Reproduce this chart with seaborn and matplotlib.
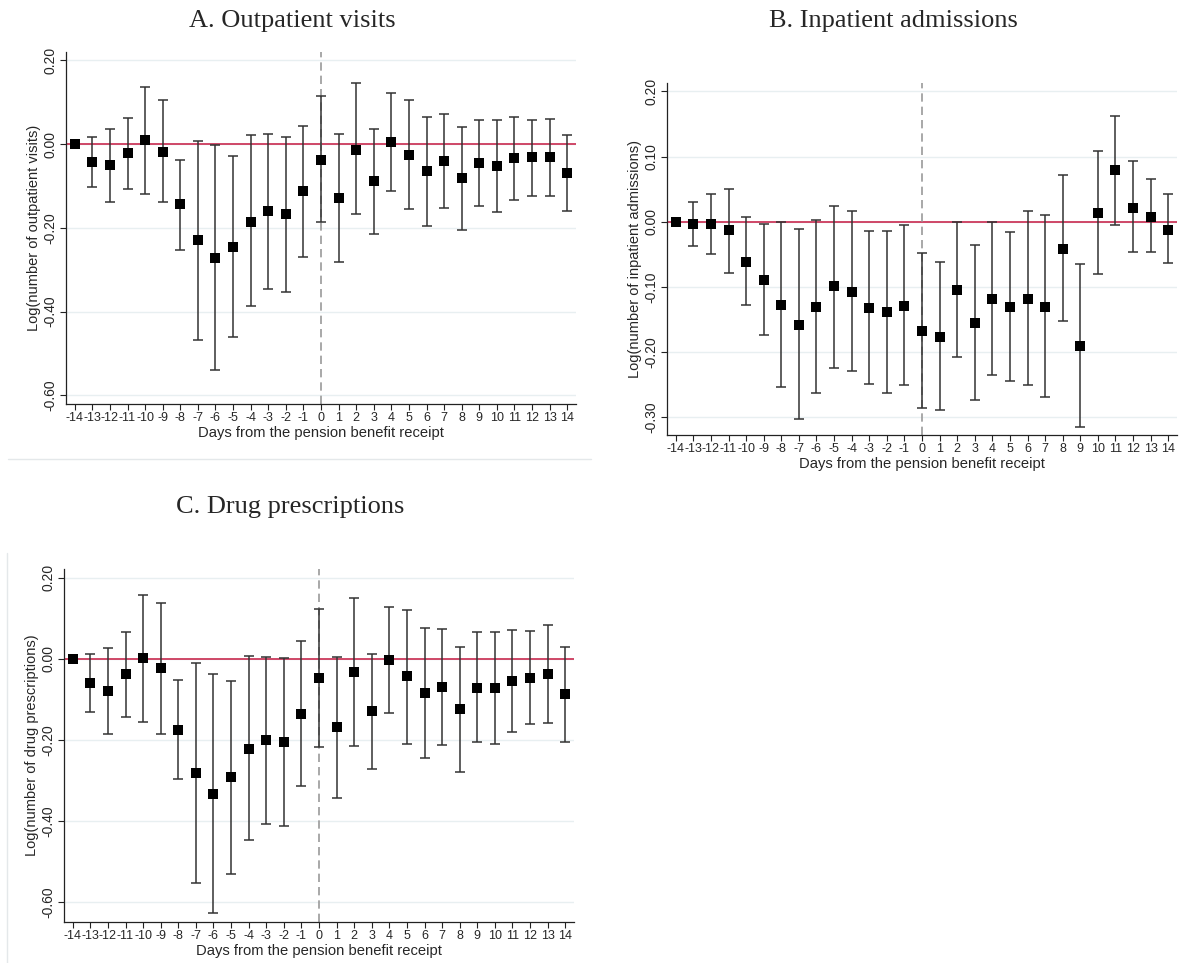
import numpy as np
import pandas as pd
import matplotlib
matplotlib.use("Agg")
import matplotlib.pyplot as plt
from matplotlib.lines import Line2D
from matplotlib.ticker import FormatStrFormatter
import seaborn as sns

days = list(range(-14, 15))

# A. Outpatient visits: point estimate and 95% CI bounds
out_est = [0.000, -0.044, -0.051, -0.022, 0.009, -0.018, -0.144, -0.230, -0.271, -0.245,
           -0.185, -0.161, -0.168, -0.113, -0.037, -0.130, -0.013, -0.089, 0.005, -0.025,
           -0.065, -0.041, -0.082, -0.046, -0.053, -0.034, -0.032, -0.032, -0.068]
out_hi = [0.000, 0.018, 0.037, 0.063, 0.137, 0.105, -0.037, 0.008, -0.002, -0.028,
          0.021, 0.025, 0.018, 0.044, 0.116, 0.023, 0.145, 0.037, 0.121, 0.105,
          0.064, 0.072, 0.041, 0.057, 0.058, 0.064, 0.058, 0.061, 0.022]
out_lo = [0.000, -0.103, -0.139, -0.108, -0.120, -0.139, -0.252, -0.468, -0.539, -0.462,
          -0.388, -0.347, -0.354, -0.270, -0.187, -0.281, -0.168, -0.215, -0.111, -0.155,
          -0.195, -0.152, -0.206, -0.148, -0.163, -0.133, -0.124, -0.123, -0.159]

# B. Inpatient admissions
inp_est = [0.000, -0.004, -0.004, -0.013, -0.061, -0.089, -0.127, -0.158, -0.130, -0.099,
           -0.107, -0.132, -0.138, -0.129, -0.167, -0.176, -0.104, -0.155, -0.118, -0.130,
           -0.118, -0.130, -0.041, -0.190, 0.014, 0.079, 0.022, 0.008, -0.012]
inp_hi = [0.000, 0.030, 0.043, 0.051, 0.007, -0.003, -0.001, -0.011, 0.003, 0.025,
          0.016, -0.014, -0.014, -0.005, -0.048, -0.061, 0.000, -0.036, 0.000, -0.015,
          0.017, 0.011, 0.072, -0.065, 0.109, 0.163, 0.093, 0.065, 0.042]
inp_lo = [0.000, -0.037, -0.050, -0.078, -0.127, -0.173, -0.253, -0.303, -0.262, -0.224,
          -0.229, -0.249, -0.262, -0.250, -0.286, -0.289, -0.207, -0.273, -0.235, -0.244,
          -0.251, -0.269, -0.152, -0.314, -0.080, -0.005, -0.046, -0.047, -0.063]

# C. Drug prescriptions
drug_est = [0.000, -0.060, -0.080, -0.038, 0.002, -0.023, -0.176, -0.282, -0.332, -0.292,
            -0.221, -0.201, -0.206, -0.137, -0.048, -0.169, -0.033, -0.129, -0.003, -0.043,
            -0.085, -0.068, -0.124, -0.071, -0.072, -0.055, -0.048, -0.038, -0.087]
drug_hi = [0.000, 0.013, 0.026, 0.067, 0.159, 0.139, -0.053, -0.010, -0.036, -0.054,
           0.007, 0.006, 0.002, 0.044, 0.124, 0.005, 0.150, 0.013, 0.128, 0.122,
           0.077, 0.075, 0.030, 0.066, 0.066, 0.072, 0.068, 0.084, 0.030]
drug_lo = [0.000, -0.132, -0.185, -0.143, -0.155, -0.184, -0.297, -0.554, -0.626, -0.531,
           -0.446, -0.406, -0.412, -0.314, -0.217, -0.343, -0.214, -0.272, -0.133, -0.209,
           -0.245, -0.212, -0.279, -0.206, -0.211, -0.181, -0.161, -0.159, -0.204]

titles = ["A. Outpatient visits", "B. Inpatient admissions", "C. Drug prescriptions"]
ylabels = ["Log(number of outpatient visits)", "Log(number of inpatient admissions)",
           "Log(number of drug prescriptions)"]
xlabel = "Days from the pension benefit receipt"

sns.set_theme(style="white")
plt.rcParams["font.family"] = ["Liberation Sans", "DejaVu Sans"]

fig = plt.figure(figsize=(11.8, 9.63), dpi=100)
W, H = 1180, 963


def axes_px(left, top, right, bottom):
    return fig.add_axes([left / W, 1 - bottom / H, (right - left) / W, (bottom - top) / H])


panels = [
    dict(ax=axes_px(66, 52, 576, 404), est=out_est, lo=out_lo, hi=out_hi,
         ylim=(-0.621, 0.22), yticks=[0.2, 0.0, -0.2, -0.4, -0.6], title_xy=(292, 21)),
    dict(ax=axes_px(667, 83, 1177, 435), est=inp_est, lo=inp_lo, hi=inp_hi,
         ylim=(-0.327, 0.213), yticks=[0.2, 0.1, 0.0, -0.1, -0.2, -0.3], title_xy=(893, 21)),
    dict(ax=axes_px(64, 569, 574, 922), est=drug_est, lo=drug_lo, hi=drug_hi,
         ylim=(-0.649, 0.222), yticks=[0.2, 0.0, -0.2, -0.4, -0.6], title_xy=(290, 507)),
]

grid_col = "#e8eff1"
red_col = "#cc3a5c"

for p, title, ylab in zip(panels, titles, ylabels):
    ax = p["ax"]
    df = pd.DataFrame({"day": days, "est": p["est"], "lo": p["lo"], "hi": p["hi"]})

    for yt in p["yticks"]:
        ax.axhline(yt, color=grid_col, lw=1.0, zorder=0)
    ax.axhline(0, color=red_col, lw=1.3, zorder=1)
    ax.axvline(0, color="#9a9a9a", lw=1.2, ls=(0, (5, 3)), zorder=1)

    err = np.vstack([df["est"] - df["lo"], df["hi"] - df["est"]])
    ax.errorbar(df["day"], df["est"], yerr=err, fmt="none", ecolor="#333333",
                elinewidth=1.1, capsize=3.5, capthick=1.1, zorder=2)
    sns.scatterplot(data=df, x="day", y="est", marker="s", color="black", s=48,
                    linewidth=0, ax=ax, zorder=3, legend=False)

    ax.set_xlim(-14.5, 14.5)
    ax.set_ylim(*p["ylim"])
    ax.set_xticks(days)
    ax.set_xticklabels([str(d) for d in days], fontsize=9)
    ax.set_yticks(p["yticks"])
    ax.yaxis.set_major_formatter(FormatStrFormatter("%.2f"))
    for lbl in ax.get_yticklabels():
        lbl.set_rotation(90)
        lbl.set_va("center")
        lbl.set_fontsize(10)
    ax.tick_params(axis="both", direction="out", length=4, width=0.8, color="#222222",
                   bottom=True, left=True, pad=2)
    ax.set_xlabel(xlabel, fontsize=10.6, labelpad=1)
    ax.set_ylabel(ylab, fontsize=10.5, labelpad=2)
    for side in ("top", "right"):
        ax.spines[side].set_visible(False)
    for side in ("left", "bottom"):
        ax.spines[side].set_color("#222222")
        ax.spines[side].set_linewidth(0.9)

    tx, ty = p["title_xy"]
    fig.text(tx / W, 1 - ty / H, title, ha="center", va="center",
             fontsize=19, family=["Liberation Serif", "DejaVu Serif"])

# faint outlines of the graph regions
edge = "#e4e8ea"
fig.add_artist(Line2D([8 / W, 591 / W], [1 - 459 / H, 1 - 459 / H], color=edge, lw=1))
fig.add_artist(Line2D([7 / W, 7 / W], [1 - 553 / H, 0], color=edge, lw=1))

fig.savefig("out.png", dpi=100, facecolor="white")
